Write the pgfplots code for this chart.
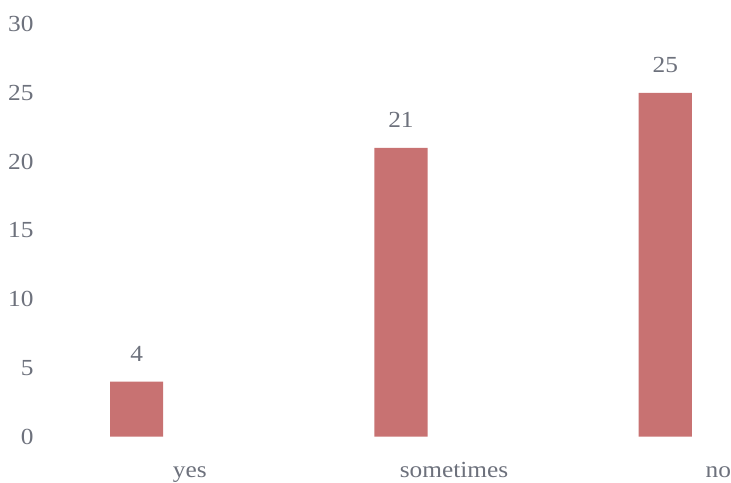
\documentclass[border=0pt]{standalone}
\usepackage{pgfplots}
\pgfplotsset{compat=1.18}
\usepackage{fontspec}
\setmainfont{Liberation Serif}[FakeStretch=1.1]
\definecolor{barred}{HTML}{C87272}
\definecolor{txtgray}{HTML}{6D717C}
\begin{document}
\begin{tikzpicture}[font=\fontsize{11.5}{13}\selectfont]
\begin{axis}[
  scale only axis,
  width=358.6pt, height=218pt,
  xmin=-0.517, xmax=2.2,
  ymin=0, ymax=31.75,
  ytick={0,5,...,30},
  xtick={0,1,2},
  xticklabels={yes,sometimes,no},
  axis line style={draw=none},
  tick style={draw=none},
  ticklabel style={text=txtgray},
  /pgf/number format/assume math mode=true,
  xticklabel style={anchor=base, inner sep=0pt, xshift=26.5pt, yshift=-20.3pt},
  yticklabel style={anchor=east, xshift=20.3pt},
  nodes near coords,
  nodes near coords style={text=txtgray, yshift=6.5pt},
  clip=false,
]
\addplot[ybar, bar width=26.5pt, fill=barred, draw=none] coordinates {
  (0,4) (1,21) (2,25)
};
\end{axis}
\end{tikzpicture}
\end{document}
